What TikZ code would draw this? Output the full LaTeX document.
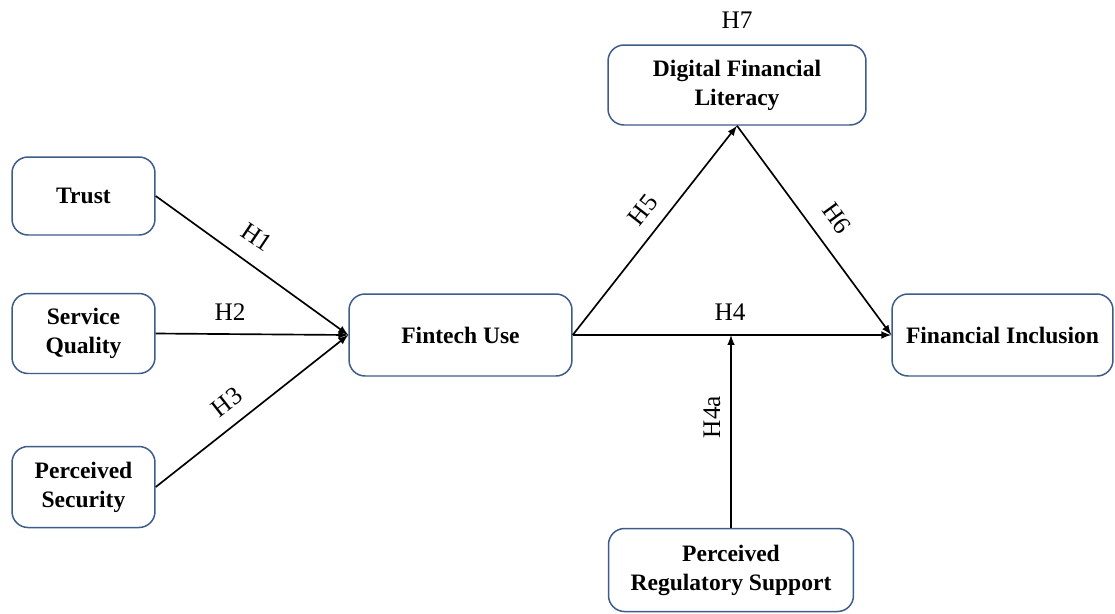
\documentclass[tikz,border=0pt]{standalone}
\usepackage{fontspec}
\setmainfont{Liberation Serif}
\usepackage{tikz}
\usetikzlibrary{shapes,arrows}

\definecolor{boxblue}{RGB}{62,92,138}

\tikzset{
	construct/.style={draw=boxblue, line width=0.85pt, rounded corners=0.32cm, fill=white,
		align=center, font=\fontsize{13.4}{16.5}\selectfont\bfseries},
	path/.style={->, >=latex, line width=0.95pt},
	hyp/.style={font=\fontsize{14.4}{16}\selectfont, inner sep=1pt}
}

\begin{document}
\begin{tikzpicture}[x=0.02cm, y=-0.02cm]
				\useasboundingbox (0,0) rectangle (1115,613);
				
				% Antecedents
				\node[construct, minimum width=2.86cm, minimum height=1.56cm] (trust) at (83.5,196) {Trust};
				\node[construct, minimum width=2.86cm, minimum height=1.60cm] (service) at (83.5,333.5) {Service\\Quality};
				\node[construct, minimum width=2.86cm, minimum height=1.62cm] (security) at (83.5,487) {Perceived\\Security};
				
				% Fintech use
				\node[construct, minimum width=4.46cm, minimum height=1.64cm] (fintech) at (460.5,335) {Fintech Use};
				
				% Mediator and moderator
				\node[construct, minimum width=5.16cm, minimum height=1.60cm] (literacy) at (737,85) {Digital Financial\\Literacy};
				\node[construct, minimum width=4.90cm, minimum height=1.66cm] (regulatory) at (731,570) {Perceived\\Regulatory Support};
				
				% Outcome
				\node[construct, minimum width=4.42cm, minimum height=1.64cm] (inclusion) at (1002.5,335) {Financial Inclusion};
				
				% Paths
				\draw[path] (trust.east) -- (fintech.west);
				\draw[path] (service.east) -- (fintech.west);
				\draw[path] (security.east) -- (fintech.west);
				\draw[path] (fintech.east) -- (literacy.south);
				\draw[path] (literacy.south) -- (inclusion.west);
				\draw[path] (fintech.east) -- (inclusion.west);
				\coordinate (moderation) at (fintech.east -| regulatory.north);
				\draw[path] (regulatory.north) -- (moderation);
				
				% Hypotheses
				\node[hyp, rotate=-34] (h1) at (257,237) {H1};
				\node[hyp] (h2) at (230,312) {H2};
				\node[hyp, rotate=38] (h3) at (227,402) {H3};
				\node[hyp] (h4) at (730,312) {H4};
				\node[hyp, rotate=90] (h4a) at (712,417) {H4a};
				\node[hyp, rotate=52] (h5) at (643,210) {H5};
				\node[hyp, rotate=-54] (h6) at (837,218) {H6};
				\node[hyp] (h7) at (737,20) {H7};
			\end{tikzpicture}
\end{document}
